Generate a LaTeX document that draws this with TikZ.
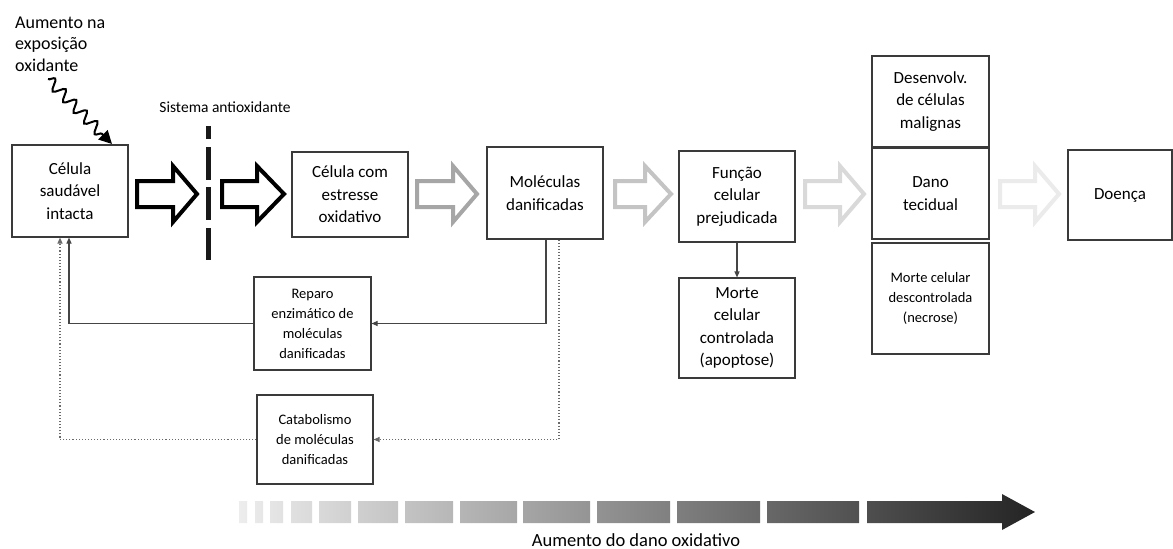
\documentclass[tikz,border=0pt]{standalone}
\usepackage{fontspec}
\setmainfont{Carlito}
\usetikzlibrary{arrows.meta,decorations.pathmorphing}
\definecolor{boxline}{HTML}{3A3A3A}
\definecolor{fbline}{HTML}{454545}
\definecolor{arA}{HTML}{A6A6A6}
\definecolor{arB}{HTML}{C4C4C4}
\definecolor{arC}{HTML}{D9D9D9}
\definecolor{arD}{HTML}{EBEBEB}
\definecolor{barL}{HTML}{EDEDED}
\definecolor{barR}{HTML}{242424}
\begin{document}
\begin{tikzpicture}[x=1pt,y=-1pt,
  bigtext/.style={font=\fontsize{17}{22.5}\selectfont},
  smalltext/.style={font=\fontsize{14.5}{20}\selectfont},
  box/.style={draw=boxline,line width=1.1pt,align=center,inner sep=0pt,fill=white},
  bigarrow/.style={line width=4pt,line join=miter,fill=white},
  fb/.style={draw=fbline,line width=1.1pt,-{Triangle[length=6pt,width=5pt]}},
  fbdot/.style={draw=fbline!80,line width=1.1pt,dotted,-{Triangle[length=6pt,width=5pt]}}]
\useasboundingbox (0,0) rectangle (1173,549);

% boxes
\node[box,bigtext,minimum width=116pt,minimum height=92pt] (c1) at (70,191) {Célula\\saudável\\intacta};
\node[box,bigtext,minimum width=116pt,minimum height=85pt] (c2) at (350,194.5) {Célula com\\estresse\\oxidativo};
\node[box,bigtext,minimum width=116pt,minimum height=92pt] (c3) at (545,193) {Moléculas\\danificadas};
\node[box,bigtext,minimum width=116pt,minimum height=91pt] (c4) at (737,196.5) {Função\\celular\\prejudicada};
\node[box,bigtext,minimum width=116pt,minimum height=100pt] (c5) at (737,328) {Morte\\celular\\controlada\\(apoptose)};
\node[box,bigtext,minimum width=117pt,minimum height=91pt] (c6) at (930.5,101.5) {Desenvolv.\\de células\\malignas};
\node[box,bigtext,minimum width=117pt,minimum height=91pt] (c7) at (930.5,193.5) {Dano\\tecidual};
\node[box,smalltext,minimum width=117pt,minimum height=111pt] (c8) at (930.5,298.5) {Morte celular\\descontrolada\\(necrose)};
\node[box,bigtext,minimum width=104pt,minimum height=90pt] (c9) at (1120,195) {Doença};
\node[box,smalltext,minimum width=117pt,minimum height=93pt] (r1) at (312.5,323.5) {Reparo\\enzimático de\\moléculas\\danificadas};
\node[box,smalltext,minimum width=116pt,minimum height=89pt] (r2) at (315,439.5) {Catabolismo\\de moléculas\\danificadas};

% block arrows
\foreach \L/\H/\T/\c in {135/173/200/black, 220/257/287/black, 415/453/480/arA, 613/645/674/arB, 803/840/867/arC, 998/1035/1062/arD}{
  \draw[bigarrow,draw=\c] ({\L+2},181) -- (\H,181) -- (\H,166) -- ({\T-3},194) -- (\H,222) -- (\H,207) -- ({\L+2},207) -- cycle;
}

% antioxidant barrier
\node[font=\fontsize{15.5}{18}\selectfont,inner sep=0pt] (sis) at (225,107) {Sistema antioxidante};
\coordinate (bartop) at (208,126);
\coordinate (barbot) at (208,260);
\draw[line width=5pt,black!90,dash pattern=on 13pt off 8pt on 33pt off 7pt on 33pt off 8pt on 32pt] (bartop) -- (barbot);

% oxidative exposure
\node[font=\fontsize{18}{21.5}\selectfont,align=left,anchor=north west,inner sep=0pt] (exp) at (15,16.5) {Aumento na\\exposição\\oxidante};
\coordinate (wstart) at (48,79);
\coordinate (wend) at (112,144);
\draw[line width=2pt,decorate,decoration={snake,amplitude=5.5pt,segment length=15pt,post length=11pt},-{Triangle[length=13pt,width=13pt]}] (wstart) -- (wend);

% vertical arrow
\draw[fb] (c4.south) -- (c5.north);

% feedback
\coordinate (xa) at (546,0);
\coordinate (xb) at (69,0);
\coordinate (xc) at (559,0);
\coordinate (xd) at (60,0);
\draw[fb] (xa |- c3.south) |- (r1.east);
\draw[fb] (r1.west) -| (xb |- c1.south);
\draw[fbdot] (xc |- c3.south) |- (r2.east);
\draw[fbdot] (r2.west) -| (xd |- c1.south);

% gradient bar
\shade[left color=barL,right color=barR]
  (239,501) rectangle (247,523)
  (255,501) rectangle (263,523)
  (270,501) rectangle (283,523)
  (291,501) rectangle (312,523)
  (319,501) rectangle (351,523)
  (358,501) rectangle (398,523)
  (405,501) rectangle (453,523)
  (460,501) rectangle (517,523)
  (523,501) rectangle (590,523)
  (597,501) rectangle (670,523)
  (677,501) rectangle (760,523)
  (767,501) rectangle (859,523)
  (867,501) -- (1002,501) -- (1002,494) -- (1035,512) -- (1002,530) -- (1002,523) -- (867,523) -- cycle;
\node[font=\fontsize{18.5}{20}\selectfont,inner sep=0pt] (lab) at (636,540) {Aumento do dano oxidativo};
\end{tikzpicture}
\end{document}
